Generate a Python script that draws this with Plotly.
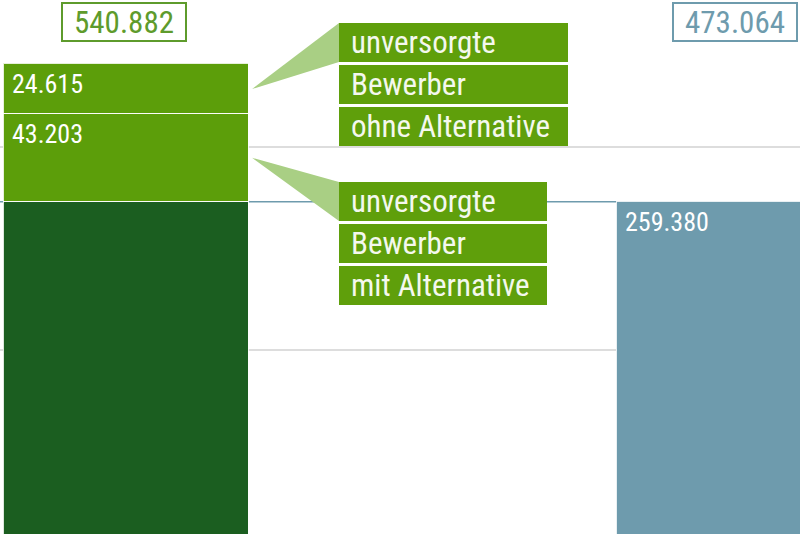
import plotly.graph_objects as go

# ---------------- data ----------------
bar_positions = [0, 1]
left_segment_values = [473.064, 43.203, 24.615]   # bottom -> top
left_segment_labels = ["", "43.203", "24.615"]
left_total = 540.882
right_segment_value = 259.380
right_total = 473.064
reference_value = 473.064
grid_values = [400, 500]
callout_texts = [
    ["unversorgte", "Bewerber", "ohne Alternative"],
    ["unversorgte", "Bewerber", "mit Alternative"],
]

# ---------------- style ----------------
W, H = 800, 534
X0, X1 = -0.2064, 1.0987
Y0, Y1 = 309.4, 572.4
BAR_W = 0.4
DARK_GREEN = "#1b5e20"
LIGHT_GREEN = "#5c9e0a"
CALLOUT_GREEN = "#5f9f0b"
WEDGE_GREEN = "#a9cf84"
BLUE = "#6e9bad"
TOTAL_GREEN = "#5e9b2c"
FONT = "Roboto Condensed, Liberation Sans Narrow, Roboto, sans-serif"


def px_x(px):
    return X0 + px / W * (X1 - X0)


def px_y(py):
    return Y1 - py / H * (Y1 - Y0)


fig = go.Figure()

left_colors = [DARK_GREEN, LIGHT_GREEN, LIGHT_GREEN]
for val, col in zip(left_segment_values, left_colors):
    fig.add_trace(go.Bar(
        x=[bar_positions[0]], y=[val], width=BAR_W,
        marker=dict(color=col, line=dict(color="rgba(255,255,255,0.85)", width=1.5)),
        hoverinfo="skip", showlegend=False,
    ))

fig.add_trace(go.Bar(
    x=[bar_positions[1]], y=[right_segment_value], base=[right_total - right_segment_value],
    width=BAR_W,
    marker=dict(color=BLUE, line=dict(color="rgba(255,255,255,0.85)", width=1.5)),
    hoverinfo="skip", showlegend=False,
))

shapes = []
annotations = []

# reference line
shapes.append(dict(type="line", xref="paper", yref="y", x0=0, x1=1,
                   y0=reference_value, y1=reference_value,
                   line=dict(color=BLUE, width=1.5), layer="below"))

# segment value labels (inside, top-left)
cum = 0
for val, lab in zip(left_segment_values, left_segment_labels):
    cum += val
    if lab:
        annotations.append(dict(x=bar_positions[0] - BAR_W / 2, y=cum, xref="x", yref="y",
                                text=lab, showarrow=False, xanchor="left", yanchor="top",
                                xshift=6, yshift=-3,
                                font=dict(family=FONT, size=26, color="white")))
annotations.append(dict(x=bar_positions[1] - BAR_W / 2, y=right_total, xref="x", yref="y",
                        text=f"{right_segment_value:.3f}", showarrow=False,
                        xanchor="left", yanchor="top", xshift=6, yshift=-3,
                        font=dict(family=FONT, size=26, color="white")))

# total boxes
for pos, tot, col, xs in [(bar_positions[0], left_total, TOTAL_GREEN, -3),
                          (bar_positions[1], right_total, BLUE, -5)]:
    annotations.append(dict(x=pos, y=1, xref="x", yref="paper", yanchor="top",
                            xanchor="center", yshift=-2, xshift=xs,
                            text=f"{tot:.3f}", showarrow=False,
                            width=122, height=36,
                            bordercolor=col, borderwidth=2, borderpad=0, bgcolor="white",
                            font=dict(family=FONT, size=31, color=col)))

# callouts: wedge from segment midpoint to box
seg_bounds = []
c = 0
for v in left_segment_values:
    seg_bounds.append((c, c + v))
    c += v
callout_boxes = [  # left px, top px, width px
    (339, 23, 229),
    (339, 182, 208),
]
callout_segments = [seg_bounds[2], seg_bounds[1]]
ROW_H, ROW_GAP = 39, 3
for (bx, by, bw), (s0, s1), texts in zip(callout_boxes, callout_segments, callout_texts):
    tip_x = bar_positions[0] + BAR_W / 2 + (px_x(3) - px_x(0))
    tip_y = (s0 + s1) / 2
    shapes.append(dict(type="path", xref="x", yref="y",
                       path=f"M {tip_x},{tip_y} L {px_x(bx)},{px_y(by)} L {px_x(bx)},{px_y(by + ROW_H)} Z",
                       fillcolor=WEDGE_GREEN, line=dict(width=0), layer="above"))
    for i, t in enumerate(texts):
        top = by + i * (ROW_H + ROW_GAP)
        shapes.append(dict(type="rect", xref="paper", yref="paper",
                           x0=bx / W, x1=(bx + bw) / W,
                           y0=1 - (top + ROW_H) / H, y1=1 - top / H,
                           fillcolor=CALLOUT_GREEN, line=dict(width=0), layer="above"))
        annotations.append(dict(x=(bx + 10) / W, y=1 - (top + ROW_H / 2) / H,
                                xref="paper", yref="paper", xanchor="left", yanchor="middle",
                                text=t, showarrow=False,
                                font=dict(family=FONT, size=31, color="#f4f8ee")))

fig.update_layout(
    width=W, height=H, barmode="stack", bargap=0,
    margin=dict(l=0, r=0, t=0, b=0),
    plot_bgcolor="white", paper_bgcolor="white",
    xaxis=dict(range=[X0, X1], visible=False, fixedrange=True),
    yaxis=dict(range=[Y0, Y1], tickvals=grid_values, showticklabels=False,
               gridcolor="#dddddd", gridwidth=2, zeroline=False, showline=False,
               ticks=""),
    shapes=shapes, annotations=annotations,
    showlegend=False,
)

fig.write_html("out.html", config={"displayModeBar": False},
               post_script="document.body.style.margin='0px';document.body.style.overflow='hidden';")
